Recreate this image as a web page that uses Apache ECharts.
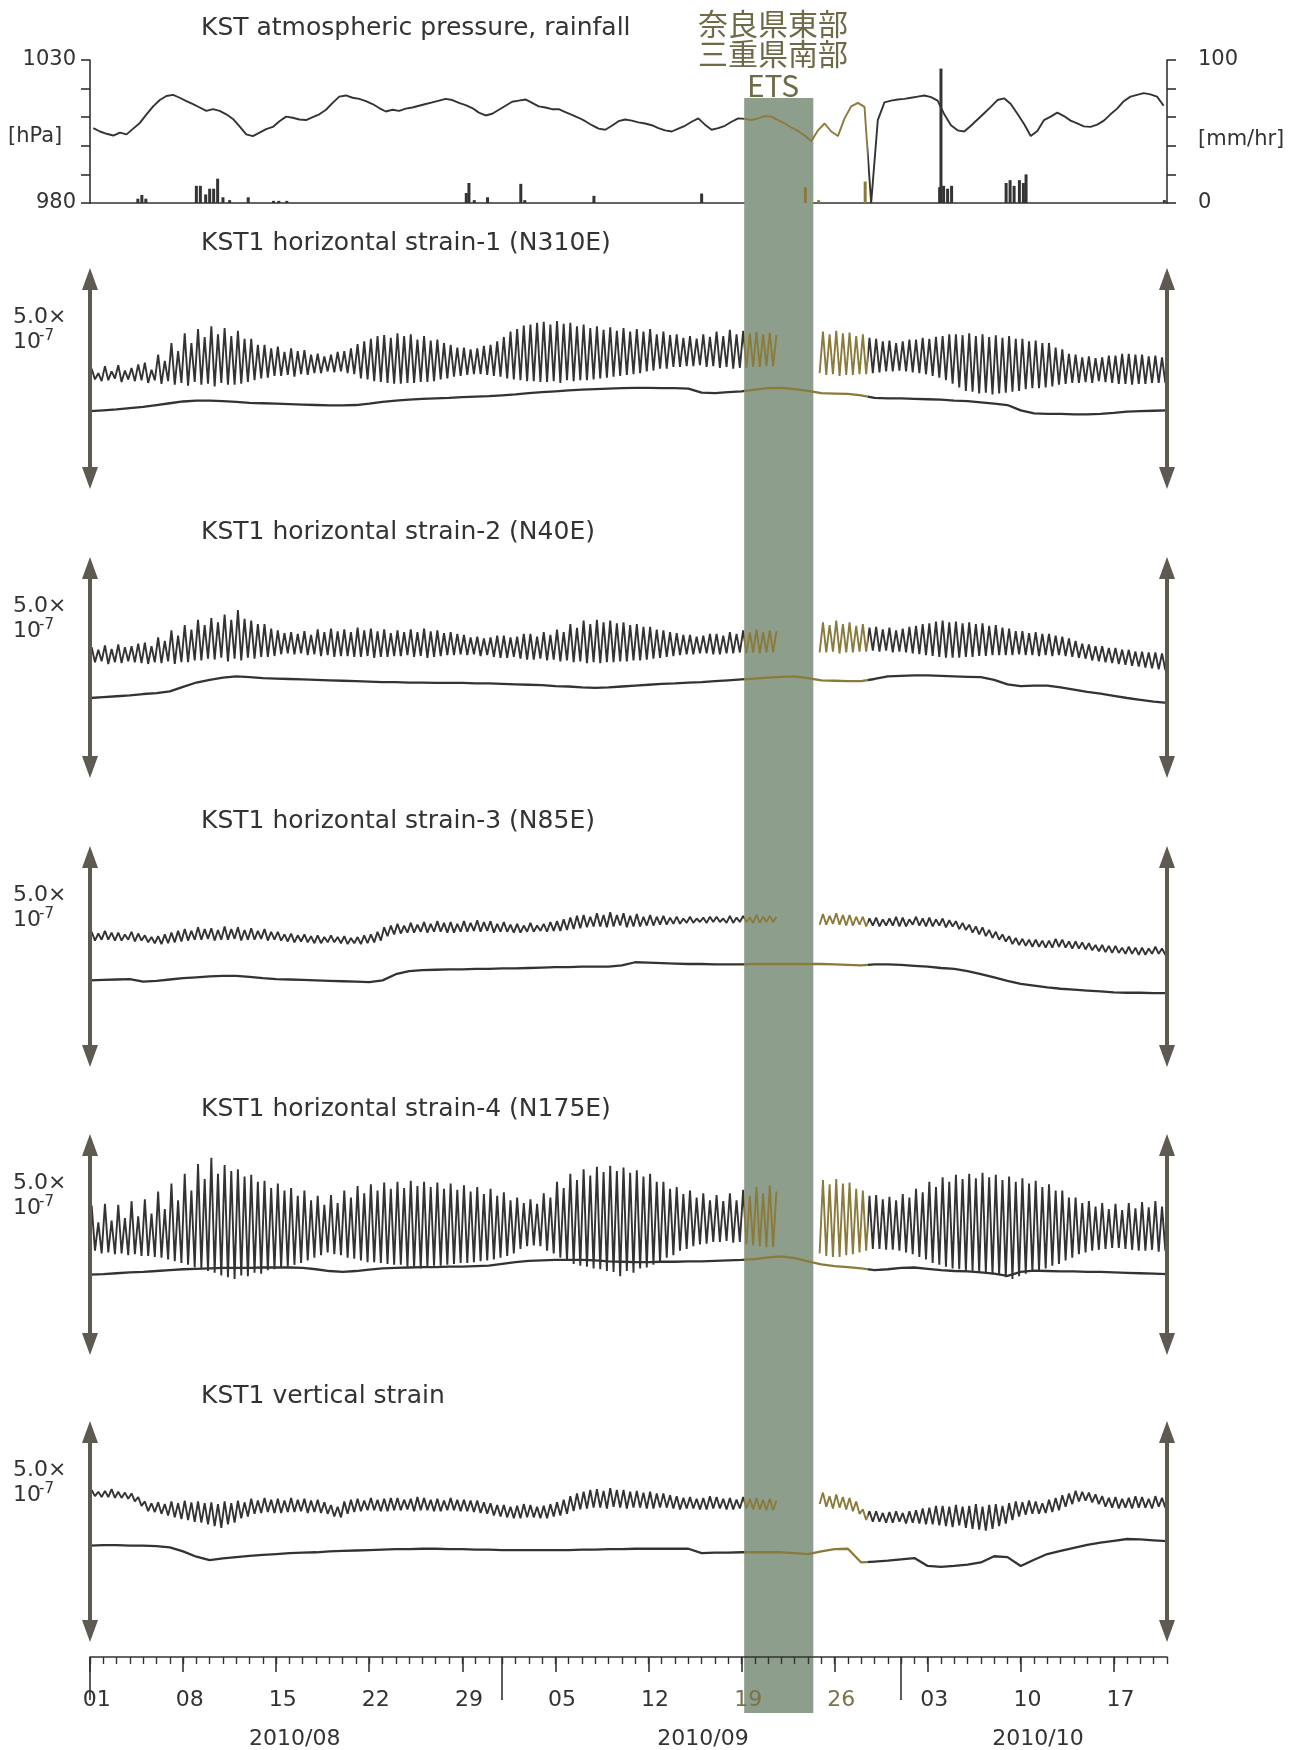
<!DOCTYPE html>
<html><head><meta charset="utf-8">
<script src="https://cdn.jsdelivr.net/npm/echarts@6/dist/echarts.min.js"></script>
<style>html,body{margin:0;padding:0;background:#fff}#c{width:1297px;height:1750px}</style>
</head><body><div id="c"></div><script>
// ---------------- DATA (x in days from 2010/08/01 00:00) ----------------
const strainTitles = ['KST1 horizontal strain-1 (N310E)','KST1 horizontal strain-2 (N40E)','KST1 horizontal strain-3 (N85E)','KST1 horizontal strain-4 (N175E)','KST1 vertical strain'];
const tickDays = [0,7,14,21,28,35,42,49,56,63,70,77];
const tickLabels = ['01','08','15','22','29','05','12','19','26','03','10','17'];
const monthDays = [0,31,61];
const monthLabelDays = [15.4,46.1,71.3];
const monthLabels = ['2010/08','2010/09','2010/10'];
const etsStart = 49.2, etsEnd = 54.4;     // ETS band
const hiliteFrom = 49.2, hiliteTo = 58.5; // olive colored period

// pressure [hPa], 2 samples per day
const pressure = [
1006.2,1005.0,1004.2,1003.6,1004.6,1004.0,1006.0,1008.0,1011.0,1013.8,
1016.0,1017.4,1017.8,1016.8,1015.6,1014.6,1013.4,1012.2,1012.8,1012.2,
1011.0,1009.4,1006.8,1004.0,1003.4,1004.6,1005.8,1006.6,1008.6,1010.2,
1009.8,1009.2,1009.0,1010.0,1011.0,1012.6,1015.0,1017.2,1017.6,1016.8,
1016.4,1015.6,1014.6,1013.2,1012.0,1012.6,1012.2,1013.0,1013.4,1014.0,
1014.6,1015.2,1015.8,1016.4,1016.0,1015.0,1014.2,1013.2,1011.6,1010.6,
1011.2,1012.6,1014.0,1015.4,1015.8,1016.2,1015.0,1013.8,1013.4,1012.8,
1012.8,1011.8,1010.8,1009.8,1008.6,1007.2,1006.0,1005.6,1007.0,1008.6,
1009.2,1008.8,1008.2,1007.8,1007.2,1006.2,1005.4,1005.0,1006.0,1007.0,
1008.4,1009.6,1007.4,1005.6,1006.2,1007.0,1008.4,1009.6,1009.4,1009.0,
1009.6,1010.4,1010.2,1009.0,1007.8,1006.4,1005.2,1003.6,1001.6,1005.4,
1007.8,1005.0,1003.4,1009.6,1013.8,1015.0,1013.6,980.0,1009.0,1015.2,
1015.8,1016.2,1016.4,1016.8,1017.2,1017.6,1017.0,1015.8,1011.0,1007.2,
1005.4,1005.0,1007.0,1009.2,1011.4,1013.6,1016.0,1016.6,1014.6,1011.2,
1007.6,1003.4,1005.2,1009.0,1010.2,1011.6,1010.4,1008.8,1007.8,1006.8,
1006.6,1007.4,1008.8,1011.0,1013.0,1015.6,1017.2,1017.8,1018.4,1018.0,
1017.2,1014.0];

// rainfall [day, mm/hr]
const rainfall = [[3.6,3],[3.9,5.6],[4.2,3],[8.0,12],[8.3,12],[8.7,6],[9.0,10],[9.3,10],[9.6,17],[10.0,4],[10.5,2],[11.9,4],
[13.8,1.5],[14.2,1.5],[14.8,1.5],[28.3,7],[28.5,14],[28.9,2],[29.9,4],[32.4,13.4],[32.7,2],[37.9,5],[46.0,6.6],[53.8,11],[54.8,2],
[58.3,15],[63.9,11],[64.0,94],[64.2,12],[64.5,10],[64.8,12],[68.9,14],[69.2,16],[69.5,12],[69.9,16],[70.2,14],[70.4,20],[80.8,2]];

// strain (units 1e-9, panel spans 0..500 = 5.0e-7), tidal series: 4 samples per day
const strain1 = [
272,248,262,244, 278,246,266,250, 280,242,268,248, 274,244,282,246, 286,240,270,246,
304,238,290,244, 330,236,312,240, 352,234,330,242, 362,236,344,238, 368,232,350,240,
364,236,346,236, 358,238,340,242, 340,246,326,250, 326,252,318,256, 322,256,310,258,
318,254,312,260, 314,258,304,262, 306,262,300,266, 304,264,310,266, 312,262,318,260,
328,250,334,248, 340,244,346,242, 348,240,342,238, 352,238,346,240, 350,240,338,242,
346,242,336,244, 338,248,330,250, 326,254,320,256, 320,258,316,260, 318,260,324,258,
326,256,334,254, 344,250,356,248, 362,246,370,244, 372,244,376,242, 378,242,372,244,
380,240,374,246, 376,244,368,246, 372,246,364,248, 368,250,360,252, 366,254,358,256,
364,258,356,260, 362,262,356,266, 362,268,350,272, 356,272,348,276, 350,276,342,278,
346,278,340,280, 350,276,344,278, 356,274,346,276, 360,272,350,274, 358,274,352,276,
356,276,350,278, 354,278,348,null, null,null,null,null, null,null,null,null, null,null,null,262,
356,258,350,260, 358,256,352,258, 354,258,346,260, 350,260,342,262, 340,264,334,266,
336,266,330,268, 334,266,338,264, 338,262,342,260, 340,256,344,252, 346,246,350,238,
350,230,348,222, 352,220,346,216, 350,218,344,214, 348,216,342,218, 346,220,340,222,
340,226,334,228, 336,228,330,230, 330,232,320,236, 316,238,306,240, 304,240,298,242,
300,240,296,244, 298,242,302,240, 302,238,306,238, 306,236,304,238, 304,238,300,240,
302,240,298,240];
const strain2 = [
296,262,290,264, 300,258,292,262, 302,260,296,264, 298,262,304,260, 306,258,298,262,
318,260,310,264, 334,258,322,262, 346,262,336,266, 358,266,346,270, 362,268,352,272,
370,264,358,270, 380,266,360,272, 356,270,348,274, 348,274,338,276, 334,280,328,282,
330,280,326,282, 332,278,324,280, 336,276,330,278, 338,274,332,276, 336,276,330,274,
340,274,334,276, 338,272,332,274, 336,274,328,276, 334,276,330,278, 336,274,330,276,
338,272,332,274, 334,276,328,278, 330,278,326,280, 324,278,318,280, 320,276,316,278,
318,274,322,272, 322,272,318,274, 320,270,326,268, 326,268,320,270, 330,266,324,268,
336,264,330,266, 348,262,340,264, 356,260,348,262, 358,260,352,262, 356,262,350,264,
352,264,346,266, 348,266,342,268, 342,270,336,272, 334,274,330,276, 328,278,324,280,
324,280,320,282, 322,282,326,280, 326,280,322,282, 330,282,326,284, 334,282,330,284,
336,282,330,284, 334,284,332,null, null,null,null,null, null,null,null,null, null,null,null,284,
352,284,346,286, 356,282,348,284, 352,284,344,286, 348,286,340,288, 342,286,336,288,
340,284,334,286, 338,284,342,282, 344,280,348,278, 350,276,354,274, 356,272,352,272,
354,272,350,274, 352,274,348,276, 350,276,344,278, 346,278,340,278, 338,278,332,280,
332,278,328,278, 330,276,326,278, 326,276,322,278, 320,276,316,274, 310,272,304,270,
302,266,298,264, 298,262,294,260, 294,258,290,256, 290,254,286,252, 286,250,284,248,
284,246,282,244];
const strain3 = [
306,286,302,288, 308,288,304,286, 304,286,300,288, 306,284,302,286, 298,282,294,280,
296,278,300,280, 304,282,308,284, 312,286,308,288, 316,288,312,290, 314,286,310,288,
318,288,312,290, 316,286,310,288, 314,288,308,290, 312,286,306,288, 306,286,300,284,
302,282,298,284, 300,282,296,280, 298,280,294,282, 298,282,294,280, 296,278,292,280,
294,278,298,280, 300,282,306,286, 316,296,320,300, 324,302,320,304, 326,304,322,306,
328,304,324,306, 330,306,326,304, 328,304,324,306, 330,306,326,308, 332,306,328,308,
330,304,324,306, 328,306,322,304, 324,304,320,306, 326,306,320,308, 324,306,328,308,
330,308,334,310, 338,312,342,314, 344,316,340,318, 348,318,344,316, 350,318,344,320,
348,316,342,318, 346,318,340,320, 344,320,340,322, 342,322,338,324, 340,324,336,326,
340,326,336,328, 338,326,340,328, 340,328,336,326, 342,326,338,328, 342,328,338,326,
344,326,340,328, 342,328,340,null, null,null,null,null, null,null,null,null, null,null,null,322,
346,322,342,324, 348,322,344,320, 344,320,340,322, 340,318,336,320, 338,318,334,320,
336,320,340,318, 338,318,334,322, 340,320,336,318, 338,318,334,320, 336,316,332,318,
330,312,326,310, 322,304,318,300, 316,296,310,292, 306,288,300,284, 296,278,292,276,
290,274,288,272, 288,272,286,270, 286,270,290,272, 288,270,284,268, 284,268,282,266,
280,264,276,262, 276,260,274,258, 274,258,270,256, 272,256,270,254, 270,254,268,256,
272,256,268,254];
const strain4 = [
338,236,300,230, 342,232,304,228, 340,230,310,226, 348,228,314,224, 352,224,320,222,
370,220,330,216, 388,212,350,208, 410,204,372,198, 432,196,398,190, 446,186,410,180,
430,176,416,172, 420,180,404,178, 408,186,392,184, 394,192,378,194, 388,198,372,200,
378,204,360,208, 372,214,350,220, 360,226,340,232, 362,228,344,226, 372,220,356,218,
382,214,366,210, 386,210,372,208, 390,206,376,204, 392,204,378,200, 394,198,382,196,
392,200,380,202, 390,202,376,204, 388,206,374,208, 384,208,370,210, 380,212,364,214,
376,216,360,220, 368,224,350,230, 356,240,344,246, 352,248,342,246, 366,236,356,230,
392,220,378,214, 410,206,396,202, 420,200,406,196, 426,194,414,190, 428,188,416,178,
424,190,412,186, 418,196,404,198, 410,204,392,210, 392,220,376,226, 380,236,364,240,
372,246,356,250, 366,252,350,256, 362,256,348,258, 366,254,350,256, 374,250,360,248,
380,246,366,244, 384,244,370,null, null,null,null,null, null,null,null,null, null,null,null,230,
396,224,386,222, 398,222,388,226, 390,228,376,232, 372,236,360,240, 362,240,352,238,
358,238,350,236, 364,232,356,228, 376,222,368,216, 392,208,380,204, 402,200,392,196,
408,194,398,190, 410,190,400,186, 412,186,402,182, 408,182,396,176, 404,172,392,178,
400,184,388,188, 394,192,380,196, 386,202,372,206, 372,214,356,220, 356,228,344,232,
348,236,336,238, 344,240,330,242, 342,242,328,240, 344,238,332,236, 346,236,334,238,
348,234,336,236];
const strain5 = [
344,330,340,328, 342,328,346,326, 340,326,338,324, 336,318,328,308, 318,296,314,294,
316,290,312,286, 318,282,314,278, 320,276,316,272, 318,270,314,266, 316,262,312,258,
318,266,314,270, 320,280,316,284, 324,290,320,292, 326,294,322,292, 324,292,320,294,
326,294,322,296, 324,292,320,294, 322,292,316,290, 310,284,306,282, 318,290,322,294,
324,296,320,298, 326,298,322,296, 324,296,326,298, 326,298,322,300, 324,296,328,298,
326,298,322,296, 324,296,320,298, 326,298,322,296, 322,296,320,294, 320,292,316,290,
314,286,310,284, 310,282,306,280, 308,280,312,282, 310,282,306,280, 308,280,312,284,
316,286,322,290, 330,296,336,300, 340,302,344,304, 346,304,342,302, 348,306,344,304,
344,302,340,304, 342,304,338,302, 340,302,336,304, 336,304,332,302, 330,300,326,302,
328,302,324,300, 326,300,330,302, 328,302,324,300, 326,300,322,302, 328,302,324,300,
326,300,322,298, 324,298,320,null, null,null,null,null, null,null,null,null, null,null,null,312,
338,306,330,302, 334,304,328,300, 326,296,318,290, 300,276,296,272, 296,272,292,270,
294,270,296,272, 292,268,296,270, 298,268,302,266, 304,266,308,264, 308,262,306,260,
310,264,306,258, 308,256,312,254, 306,252,310,256, 312,262,308,268, 314,276,318,284,
316,288,320,290, 318,290,314,292, 322,294,326,298, 332,306,336,312, 342,318,340,320,
338,316,334,312, 330,306,326,304, 328,302,324,304, 326,302,330,304, 328,304,324,302,
330,306,326,304];

// long-period (lower) traces, 1 sample per day, day 0..81
const trend1 = [176,178,180,183,186,190,194,198,200,200,199,197,195,194,193,192,191,190,189,189,
190,193,197,200,202,204,205,206,208,209,210,212,214,217,219,221,223,225,226,227,
228,229,229,228,228,227,218,217,219,221,225,228,229,226,222,217,216,215,212,206,
205,205,204,203,202,200,199,196,193,190,178,171,170,170,169,169,170,172,175,176,177,178];
const trend2 = [181,183,185,187,190,192,196,206,216,222,227,230,228,226,225,224,223,222,221,220,
219,218,217,217,216,216,215,215,215,214,214,213,212,211,210,208,207,205,204,205,
207,209,211,213,214,216,217,219,221,223,225,227,229,230,226,221,220,219,219,224,
230,231,232,232,231,230,229,228,222,212,208,209,209,205,200,195,191,186,181,177,173,170];
const trend3 = [196,197,198,199,193,195,198,201,203,205,206,206,204,201,199,198,197,196,195,194,
193,192,196,210,217,219,220,221,221,222,222,223,223,224,225,226,226,227,227,227,
230,237,236,235,234,233,233,232,232,232,233,233,233,233,233,233,232,231,230,232,
232,231,229,227,224,222,217,210,203,195,188,184,180,177,175,173,171,169,168,168,167,167];
const trend4 = [182,183,185,187,188,190,192,194,195,196,197,197,197,198,198,198,197,194,190,188,
190,193,196,197,198,199,199,200,200,201,202,206,210,213,214,215,215,215,214,212,
211,210,210,211,211,212,212,213,214,215,217,221,223,219,212,205,201,199,196,192,
194,197,198,195,192,190,189,187,184,179,188,191,190,189,189,188,188,187,186,185,184,183];
const trend5 = [218,219,219,218,218,217,214,205,193,185,189,192,195,197,199,201,202,203,205,206,
207,208,209,210,210,211,211,210,210,209,209,208,208,208,208,208,208,209,209,210,
210,211,211,211,211,211,201,202,202,203,203,203,203,201,199,205,210,211,180,182,
184,187,190,172,170,172,175,180,194,192,172,186,199,206,213,220,225,229,233,232,230,228];

// ---------------- STYLE / LAYOUT ----------------
const FONT = '"DejaVu Sans", Verdana, sans-serif';
const CJK = '"Noto Sans CJK JP", "DejaVu Sans", sans-serif';
const DARK = '#333333', OLIVE = '#8a7b3c', BAND = '#8d9e8c', ARROW = '#5e5a51', AX = '#333333';
const LEFT = 90, WIDTH = 1077, XMAX = 81;
const strainTops = [268, 557, 846, 1134, 1421], PH = 221;
const strains = [strain1, strain2, strain3, strain4, strain5];
const trends = [trend1, trend2, trend3, trend4, trend5];

const grids = [
  {left: LEFT, width: WIDTH, top: 98, height: 1615},
  {left: LEFT, width: WIDTH, top: 60, height: 143},
  ...strainTops.map(t => ({left: LEFT, width: WIDTH, top: t, height: PH})),
  {left: LEFT, width: WIDTH, top: 1600, height: 57}
];
const hx = gi => ({type: 'value', gridIndex: gi, min: 0, max: XMAX, show: false});
const xAxes = [
  hx(0),
  {type: 'value', gridIndex: 1, min: 0, max: XMAX, axisLine: {show: true, onZero: false, lineStyle: {color: AX, width: 1.6}},
   axisTick: {show: false}, axisLabel: {show: false}, splitLine: {show: false}},
  hx(2), hx(3), hx(4), hx(5), hx(6),
  // daily ticks
  {type: 'value', gridIndex: 7, position: 'bottom', min: 0, max: XMAX, interval: 1, z: 5,
   axisLine: {show: true, onZero: false, lineStyle: {color: AX, width: 1.6}},
   axisTick: {show: true, length: 7, lineStyle: {color: AX, width: 1.4}}, axisLabel: {show: false}, splitLine: {show: false}},
  // weekly ticks + labels
  {type: 'value', gridIndex: 7, position: 'bottom', min: 0, max: XMAX, z: 5,
   axisLine: {show: false}, splitLine: {show: false},
   axisTick: {show: true, customValues: tickDays, length: 15, lineStyle: {color: AX, width: 1.6}},
   axisLabel: {show: true, customValues: tickDays.map(d => d + 0.5), margin: 32, fontSize: 22, fontFamily: FONT,
     color: v => (Math.floor(v) === 49 || Math.floor(v) === 56) ? '#7b7348' : '#333',
     formatter: v => tickLabels[tickDays.indexOf(Math.floor(v))] || ''}},
  // month ticks
  {type: 'value', gridIndex: 7, position: 'bottom', min: 0, max: XMAX, z: 5,
   axisLine: {show: false}, splitLine: {show: false}, axisLabel: {show: false},
   axisTick: {show: true, customValues: monthDays, length: 43, lineStyle: {color: AX, width: 1.6}}},
  // month labels
  {type: 'value', gridIndex: 7, position: 'bottom', min: 0, max: XMAX, z: 5,
   axisLine: {show: false}, splitLine: {show: false}, axisTick: {show: false},
   axisLabel: {show: true, customValues: monthLabelDays, margin: 71, fontSize: 22, fontFamily: FONT, color: '#333',
     formatter: v => monthLabels[monthLabelDays.indexOf(v)] || ''}}
];
const yAxes = [
  {type: 'value', gridIndex: 0, min: 0, max: 1, show: false},
  {type: 'value', gridIndex: 1, position: 'left', min: 980, max: 1030, interval: 10,
   axisLine: {show: true, lineStyle: {color: AX, width: 1.6}}, axisTick: {show: true, length: 9, lineStyle: {color: AX, width: 1.6}},
   splitLine: {show: false},
   axisLabel: {fontSize: 21, fontFamily: FONT, color: '#333', margin: 14, formatter: v => (v === 1030 || v === 980) ? String(v) : ''}},
  {type: 'value', gridIndex: 1, position: 'right', min: 0, max: 100, interval: 20,
   axisLine: {show: true, lineStyle: {color: AX, width: 1.6}}, axisTick: {show: true, length: 9, lineStyle: {color: AX, width: 1.6}},
   splitLine: {show: false},
   axisLabel: {fontSize: 21, fontFamily: FONT, color: '#333', margin: 31, formatter: v => (v === 100 || v === 0) ? String(v) : ''}},
  ...strainTops.map((t, i) => ({type: 'value', gridIndex: 2 + i, min: 0, max: 500, show: false})),
  {type: 'value', gridIndex: 7, min: 0, max: 1, show: false}
];

const series = [
  {type: 'line', xAxisIndex: 0, yAxisIndex: 0, data: [[0, 0]], symbol: 'none', lineStyle: {opacity: 0}, z: 0, silent: true,
   markArea: {silent: true, itemStyle: {color: BAND, opacity: 1}, data: [[{xAxis: etsStart}, {xAxis: etsEnd}]]}},
  {type: 'line', xAxisIndex: 1, yAxisIndex: 1, data: pressure.map((v, k) => [k * 0.5 + 0.25, v]), symbol: 'none',
   lineStyle: {width: 1.9}, z: 3},
  {type: 'bar', xAxisIndex: 1, yAxisIndex: 2, data: rainfall, barWidth: 3, z: 3}
];
strains.forEach((s, i) => series.push({
  type: 'line', xAxisIndex: 2 + i, yAxisIndex: 3 + i, data: s.map((v, k) => [k * 0.25 + 0.125, v]),
  symbol: 'none', connectNulls: false, lineStyle: {width: 1.9}, z: 3
}));
trends.forEach((t, i) => series.push({
  type: 'line', xAxisIndex: 2 + i, yAxisIndex: 3 + i, data: t.map((v, d) => [d, v]),
  symbol: 'none', lineStyle: {width: 2.3}, z: 3, clip: false,
  markLine: {silent: true, symbol: ['triangle', 'triangle'], symbolSize: [16, 22], animation: false,
    lineStyle: {color: ARROW, width: 4, type: 'solid'}, itemStyle: {color: ARROW}, label: {show: false},
    emphasis: {disabled: true},
    data: [[{coord: [0, 25]}, {coord: [0, 475]}], [{coord: [XMAX, 25]}, {coord: [XMAX, 475]}]]}
}));

function txt(x, y, text, size, opt) {
  opt = opt || {};
  return {type: 'text', x: x, y: y, silent: true, z: 10,
    style: {text: text, fontSize: size, fontFamily: opt.font || FONT, fill: opt.fill || '#333',
      align: opt.align || 'left', verticalAlign: 'middle', textAlign: opt.align || 'left', textVerticalAlign: 'middle'}};
}
const graphics = [
  txt(201, 28, 'KST atmospheric pressure, rainfall', 25),
  txt(8, 137, '[hPa]', 21),
  txt(1198, 140, '[mm/hr]', 21),
  txt(773, 24, '奈良県東部', 30, {font: CJK, fill: '#6f6a48', align: 'center'}),
  txt(773, 54, '三重県南部', 30, {font: CJK, fill: '#6f6a48', align: 'center'}),
  txt(773, 86, 'ETS', 30, {font: CJK, fill: '#6f6a48', align: 'center'})
];
strainTops.forEach((t, i) => {
  graphics.push(txt(201, t - 25, strainTitles[i], 25));
  graphics.push(txt(13, t + 49, '5.0×', 22));
  graphics.push(txt(13, t + 74, '10', 22));
  graphics.push(txt(39, t + 68, '-7', 15));
});

const chart = echarts.init(document.getElementById('c'), null, {renderer: 'canvas'});
chart.setOption({
  backgroundColor: '#ffffff',
  animation: false,
  textStyle: {fontFamily: FONT},
  grid: grids, xAxis: xAxes, yAxis: yAxes, series: series,
  visualMap: [{type: 'piecewise', show: false, dimension: 0, seriesIndex: [1,2,3,4,5,6,7,8,9,10,11,12],
    pieces: [{lt: hiliteFrom, color: DARK}, {gte: hiliteFrom, lte: hiliteTo, color: OLIVE}, {gt: hiliteTo, color: DARK}]}],
  graphic: {elements: graphics}
});
</script></body></html>
